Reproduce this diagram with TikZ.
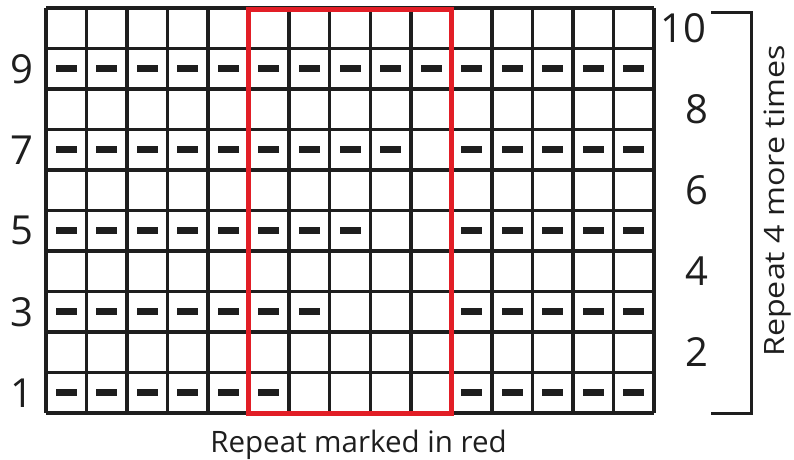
\documentclass[tikz,border=0pt]{standalone}
\usepackage{fontspec}
\setmainfont{Open Sans}
\definecolor{repred}{RGB}{226,30,38}
\definecolor{ink}{RGB}{30,30,30}
\begin{document}
\begin{tikzpicture}[x=1pt,y=-1pt,
  gridline/.style={line width=3.5pt,draw=ink},
  purl/.style={fill=ink},
  rownum/.style={font=\fontsize{40}{40}\selectfont,text=ink,inner sep=0pt,anchor=center},
  caption/.style={font=\fontsize{29.5}{29.5}\selectfont,text=ink,inner sep=0pt,anchor=base},
  bracket/.style={line width=3pt,draw=ink},
  repeatbox/.style={line width=5pt,draw=repred}]
\useasboundingbox (0,0) rectangle (794,459);
\def\cw{40.533}
\def\ch{40.5}
% grid
\foreach \i in {0,...,15}{\draw[gridline] ({46+\i*\cw},8) -- ({46+\i*\cw},413);}
\foreach \j in {0,...,10}{\draw[gridline] (46,{8+\j*\ch}) -- (654,{8+\j*\ch});}
% purl dashes: row r, column c
\foreach \r/\c in {1/0,1/1,1/2,1/3,1/4,1/5,
                   3/0,3/1,3/2,3/3,3/4,3/5,3/6,
                   5/0,5/1,5/2,5/3,5/4,5/5,5/6,5/7,
                   7/0,7/1,7/2,7/3,7/4,7/5,7/6,7/7,7/8,
                   9/0,9/1,9/2,9/3,9/4,9/5,9/6,9/7,9/8,9/9,9/10,9/11,9/12,9/13,9/14,
                   1/10,1/11,1/12,1/13,1/14,3/10,3/11,3/12,3/13,3/14,
                   5/10,5/11,5/12,5/13,5/14,7/10,7/11,7/12,7/13,7/14}{
  \fill[purl] ({46+(\c+0.5)*\cw-10.5},{413-(\r-0.5)*\ch-3.5}) rectangle ({46+(\c+0.5)*\cw+10.5},{413-(\r-0.5)*\ch+3.5});
}
% repeat box
\draw[repeatbox] ({46+5*\cw},9) rectangle ({46+10*\cw},413);
% row numbers
\node[rownum] (n9) at (21.5,{413-8.5*\ch}) {9};
\node[rownum] (n7) at (21.5,{413-6.5*\ch}) {7};
\node[rownum] (n5) at (21.5,{413-4.5*\ch}) {5};
\node[rownum] (n3) at (21.5,{413-2.5*\ch}) {3};
\node[rownum] (n1) at (21.5,{413-0.5*\ch}) {1};
\node[rownum] (n10) at (683,{413-9.5*\ch}) {10};
\node[rownum] (n8) at (697,{413-7.5*\ch}) {8};
\node[rownum] (n6) at (697,{413-5.5*\ch}) {6};
\node[rownum] (n4) at (697,{413-3.5*\ch}) {4};
\node[rownum] (n2) at (697,{413-1.5*\ch}) {2};
% bracket
\coordinate (bt) at (711,12);
\coordinate (bb) at (711,413);
\draw[bracket] (bt) -- (751,12) -- (751,413) -- (bb);
\node[caption,font=\fontsize{28}{28}\selectfont,rotate=90,xscale=1.15] (rep) at (784,201) {Repeat 4 more times};
\node[caption] (cap) at (358.5,452) {Repeat marked in red};
\end{tikzpicture}
\end{document}
